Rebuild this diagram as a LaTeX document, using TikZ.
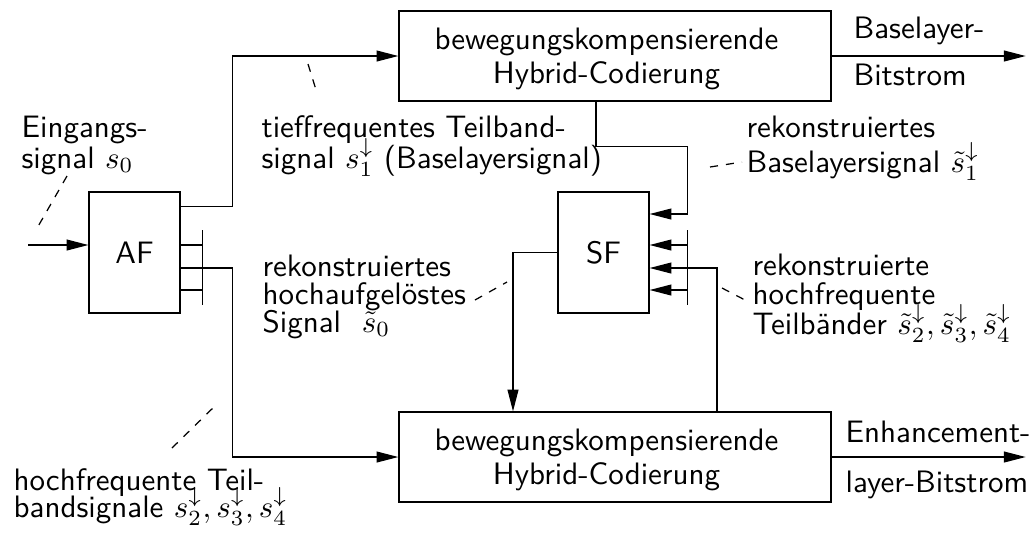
\documentclass[tikz,border=0pt]{standalone}
\usetikzlibrary{arrows.meta,calc}
% fixed line pitch for the multi-line annotations
\newcommand{\pitch}[1]{\fontsize{10}{#1}\selectfont\lineskiplimit=-20pt\lineskip=0pt}
\begin{document}
\begin{tikzpicture}[x=0.3226pt,y=-0.3226pt,
  font=\sffamily,
  arr/.style={-{Triangle[length=7pt,width=3.5pt]}},
  filt/.style={draw, minimum width=29.36pt, minimum height=39.03pt, inner sep=0pt},
  coder/.style={draw, minimum width=139.4pt, minimum height=29.03pt, inner sep=0pt},
  codertext/.style={inner sep=0pt, align=center, font=\sffamily\pitch{11}},
  lbl/.style={inner sep=0pt, anchor=base west, align=left},
  leader/.style={dash pattern=on 2.6pt off 2.6pt},
]
\useasboundingbox (0,0) rectangle (1031,534);

% blocks
\node[filt] (AF) at (134.5,252.5) {AF};
\node[filt] (SF) at (603.5,252.5) {SF};
\node[coder] (BL) at (615,56) {};
\node[coder] (EL) at (615,457) {};
\node[codertext] (BLt) at ($(BL)+(-8.5,2.7)$) {bewegungskompensierende\\Hybrid-Codierung};
\node[codertext] (ELt) at ($(EL)+(-8.5,2.7)$) {bewegungskompensierende\\Hybrid-Codierung};

% input
\coordinate (in) at ($(AF.west)+(-60,-7.5)$);
\draw[arr] (in) -- ($(AF.west)+(0,-7.5)$);

% analysis filter: low band to base layer coder
\draw[arr] ($(AF.north east)+(0,15)$) -- ++(52,0) |- (BL.west);

% analysis filter: high band bus to enhancement layer coder
\foreach \dy in {-7.5,15.5,37.5}
  \draw ($(AF.east)+(0,\dy)$) -- ++(22,0);
\draw ($(AF.east)+(22,-22.5)$) -- ++(0,75);
\draw[arr] ($(AF.east)+(22,15.5)$) -- ++(30,0) |- (EL.west);

% reconstructed base layer into synthesis filter
\draw[arr] ($(BL.south)+(-19,0)$) -- ++(0,45) -| ($(SF.east)+(38,-38.5)$) -- ($(SF.east)+(0,-38.5)$);

% reconstructed high bands bus into synthesis filter
\draw ($(SF.east)+(38,-22.5)$) -- ++(0,75);
\foreach \dy in {-7.5,15.5,37.5}
  \draw[arr] ($(SF.east)+(38,\dy)$) -- ($(SF.east)+(0,\dy)$);
\draw ($(EL.north)+(102,0)$) |- ($(SF.east)+(38,15.5)$);

% synthesis filter output to enhancement layer coder
\draw[arr] (SF.west) -| ($(EL.north)+(-102,0)$);

% bitstream outputs
\draw[arr] (BL.east) -- ++(194,0) coordinate (blout);
\draw[arr] (EL.east) -- ++(194,0) coordinate (elout);
\node[lbl] (blt) at (853,38) {Baselayer-};
\node[lbl] (blb) at (853,85) {Bitstrom};
\node[lbl] (elt) at (845,442) {Enhancement-};
\node[lbl] (elb) at (845,492) {layer-Bitstrom};

% annotations (anchored at the baseline of their last line)
\node[lbl, font=\sffamily\pitch{9.7}] (tin) at (21,168)
  {Eingangs-\\signal $s_0$};
\node[lbl, font=\sffamily\pitch{9.9}] (tlow) at (261,168)
  {tieffrequentes Teilband-\\signal $s_1^{\downarrow}$ (Baselayersignal)};
\node[lbl, font=\sffamily\pitch{11}] (trb) at (746,172)
  {rekonstruiertes\\Baselayersignal $\tilde{s}_1^{\downarrow}$};
\node[lbl, font=\sffamily\pitch{9}] (trs) at (262,332)
  {rekonstruiertes\\hochaufgelöstes\\Signal~~$\tilde{s}_0$};
\node[lbl, font=\sffamily\pitch{9.5}] (trh) at (752,334)
  {rekonstruierte\\hochfrequente\\Teilbänder $\tilde{s}_2^{\downarrow}, \tilde{s}_3^{\downarrow}, \tilde{s}_4^{\downarrow}$};
\node[lbl, font=\sffamily\pitch{8.7}] (thigh) at (13,517)
  {hochfrequente Teil-\\bandsignale $s_2^{\downarrow}, s_3^{\downarrow}, s_4^{\downarrow}$};

% leader lines
\draw[leader] (67,176) -- (36,230);
\draw[leader] (308,64) -- (317,93);
\draw[leader] (710,167) -- (742,162);
\draw[leader] (475,300) -- (507,282);
\draw[leader] (722,288) -- (745,300);
\draw[leader] (172,448) -- (218,403);
\end{tikzpicture}
\end{document}
